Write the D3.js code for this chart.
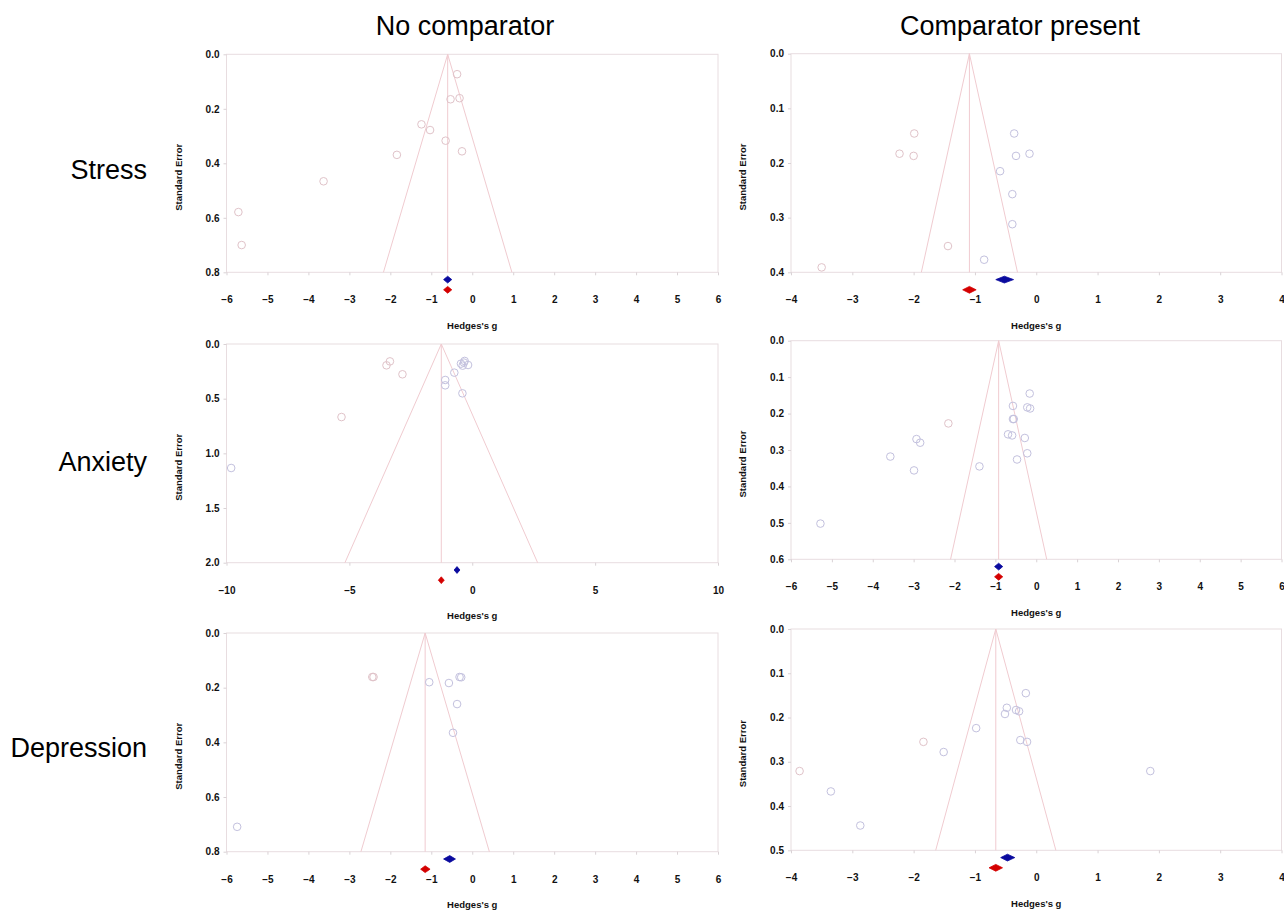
<!DOCTYPE html>
<html>
<head>
<meta charset="utf-8">
<script src="https://cdn.jsdelivr.net/npm/d3@7"></script>
<style>
  html, body { margin: 0; padding: 0; background: #ffffff; }
  svg { display: block; font-family: "Liberation Sans", Arial, sans-serif; }
</style>
</head>
<body>
<svg id="chart" width="1284" height="911"></svg>
<script>
// ---------------- DATA ----------------
const colTitles = ["No comparator", "Comparator present"];
const rowLabels = ["Stress", "Anxiety", "Depression"];
const xAxisTitle = "Hedges's g";
const yAxisTitle = "Standard Error";

// panel order: Stress-No, Stress-Comp, Anxiety-No, Anxiety-Comp, Depression-No, Depression-Comp
const xDomains = [[-6, 6], [-4, 4], [-10, 10], [-6, 6], [-6, 6], [-4, 4]];
const xTickSteps = [1, 1, 5, 1, 1, 1];
const seMax = [0.8, 0.4, 2.0, 0.6, 0.8, 0.5];
const seTickSteps = [0.2, 0.1, 0.5, 0.1, 0.2, 0.1];

// studies: [Hedges's g, standard error, colour group (0 = lavender, 1 = pink)]
const stressNoComp = [
  [-0.37, 0.073, 1], [-0.53, 0.165, 1], [-0.31, 0.161, 1], [-1.24, 0.257, 1],
  [-1.03, 0.278, 1], [-0.65, 0.317, 1], [-0.25, 0.356, 1], [-1.84, 0.369, 1],
  [-3.63, 0.466, 1], [-5.71, 0.579, 1], [-5.63, 0.700, 1]
];
const stressComp = [
  [-1.99, 0.146, 1], [-2.23, 0.183, 1], [-2.00, 0.187, 1], [-0.36, 0.146, 0],
  [-0.11, 0.183, 0], [-0.33, 0.187, 0], [-0.59, 0.215, 0], [-0.39, 0.257, 0],
  [-0.39, 0.312, 0], [-1.44, 0.352, 1], [-0.85, 0.377, 0], [-3.50, 0.391, 1]
];
const anxietyNoComp = [
  [-3.35, 0.159, 1], [-3.49, 0.195, 1], [-2.84, 0.277, 1], [-5.32, 0.668, 1],
  [-9.81, 1.134, 0], [-0.73, 0.262, 0], [-1.10, 0.329, 0], [-1.10, 0.378, 0],
  [-0.40, 0.451, 0], [-0.46, 0.180, 0], [-0.31, 0.155, 0], [-0.39, 0.198, 0],
  [-0.17, 0.192, 0], [-0.34, 0.170, 0]
];
const anxietyComp = [
  [-0.16, 0.145, 0], [-0.57, 0.179, 0], [-0.22, 0.183, 0], [-0.15, 0.186, 0],
  [-0.57, 0.215, 0], [-0.55, 0.215, 0], [-2.15, 0.227, 1], [-2.93, 0.270, 0],
  [-2.84, 0.280, 0], [-0.69, 0.257, 0], [-0.59, 0.260, 0], [-0.28, 0.267, 0],
  [-0.22, 0.309, 0], [-0.47, 0.326, 0], [-3.57, 0.318, 0], [-2.99, 0.356, 0],
  [-1.39, 0.345, 0], [-5.28, 0.502, 0]
];
const depressionNoComp = [
  [-2.44, 0.161, 1], [-2.41, 0.161, 1], [-1.05, 0.180, 0], [-0.57, 0.183, 0],
  [-0.31, 0.161, 0], [-0.27, 0.162, 0], [-0.37, 0.260, 0], [-0.47, 0.365, 0],
  [-5.74, 0.709, 0]
];
const depressionComp = [
  [-0.17, 0.145, 0], [-0.48, 0.178, 0], [-0.51, 0.192, 0], [-0.33, 0.183, 0],
  [-0.28, 0.186, 0], [-0.98, 0.224, 0], [-1.84, 0.255, 1], [-1.51, 0.278, 0],
  [-0.26, 0.251, 0], [-0.15, 0.255, 0], [-3.86, 0.321, 1], [-3.35, 0.367, 0],
  [-2.87, 0.444, 0], [1.86, 0.321, 0]
];
const studies = [stressNoComp, stressComp, anxietyNoComp, anxietyComp, depressionNoComp, depressionComp];

// summary effects: observed (blue) and adjusted / trim-and-fill (red)
const observedEst = [-0.60, -0.52, -0.62, -0.92, -0.55, -0.47];
const observedLo  = [-0.70, -0.66, -0.74, -1.02, -0.70, -0.58];
const observedHi  = [-0.50, -0.37, -0.50, -0.82, -0.41, -0.35];
const adjustedEst = [-0.60, -1.09, -1.26, -0.92, -1.15, -0.66];
const adjustedLo  = [-0.70, -1.20, -1.38, -1.02, -1.26, -0.77];
const adjustedHi  = [-0.50, -0.98, -1.14, -0.82, -1.03, -0.55];

// ---------------- LAYOUT ----------------
const layout = [
  {l: 226.5, r: 718,    t: 54.3,  b: 272.3},
  {l: 791,   r: 1281.5, t: 53.7,  b: 272.3},
  {l: 226.5, r: 718,    t: 344,   b: 562.7},
  {l: 791,   r: 1281.5, t: 340.7, b: 559.3},
  {l: 226.5, r: 718,    t: 633,   b: 851.7},
  {l: 791,   r: 1281.5, t: 629,   b: 850.3}
];
const colTitleX = [465, 1020];
const rowLabelBaseline = [179, 471, 757];
const yTitleX = [179, 742.5];

const frameColor = "#e8dde0";
const funnelColor = "#f0cbd0";
const circleColors = ["#c3c1de", "#e0c3c9"];
const blue = "#0a0a9e";
const red = "#d40000";

const svg = d3.select("#chart");

svg.selectAll("text.coltitle").data(colTitles).enter().append("text")
  .attr("class", "coltitle")
  .attr("x", (d, i) => colTitleX[i]).attr("y", 35)
  .attr("text-anchor", "middle")
  .attr("font-size", 27).attr("fill", "#000")
  .text(d => d);

svg.selectAll("text.rowlabel").data(rowLabels).enter().append("text")
  .attr("class", "rowlabel")
  .attr("x", 147).attr("y", (d, i) => rowLabelBaseline[i])
  .attr("text-anchor", "end")
  .attr("font-size", 27).attr("fill", "#000")
  .text(d => d);

const fmt1 = d3.format(".1f");

studies.forEach((pts, p) => {
  const L = layout[p];
  const col = p % 2;
  const x = d3.scaleLinear().domain(xDomains[p]).range([L.l, L.r]);
  const y = d3.scaleLinear().domain([0, seMax[p]]).range([L.t, L.b]);
  const g = svg.append("g");

  // frame
  g.append("rect")
    .attr("x", L.l).attr("y", L.t)
    .attr("width", L.r - L.l).attr("height", L.b - L.t)
    .attr("fill", "none").attr("stroke", frameColor).attr("stroke-width", 1);

  // x axis
  const xt = d3.range(xDomains[p][0], xDomains[p][1] + 1e-9, xTickSteps[p]);
  const xa = g.append("g").attr("transform", `translate(0,${L.b})`)
    .call(d3.axisBottom(x).tickValues(xt).tickFormat(d3.format("d")).tickSize(3).tickPadding(21));
  xa.select(".domain").remove();
  xa.selectAll(".tick line").attr("stroke", "#d9d2d5");
  xa.selectAll("text").attr("font-size", 10).attr("font-weight", "bold")
    .attr("fill", "#111").attr("font-family", "'Liberation Sans', Arial, sans-serif");

  // y axis
  const yt = d3.range(0, seMax[p] + 1e-9, seTickSteps[p]);
  const ya = g.append("g").attr("transform", `translate(${L.l},0)`)
    .call(d3.axisLeft(y).tickValues(yt).tickFormat(fmt1).tickSize(3).tickPadding(4));
  ya.select(".domain").remove();
  ya.selectAll(".tick line").attr("stroke", "#d9d2d5");
  ya.selectAll("text").attr("font-size", 10).attr("font-weight", "bold")
    .attr("fill", "#111").attr("font-family", "'Liberation Sans', Arial, sans-serif");

  // axis titles
  g.append("text")
    .attr("x", (L.l + L.r) / 2).attr("y", L.b + 56.5)
    .attr("text-anchor", "middle").attr("font-size", 9.5).attr("font-weight", "bold")
    .attr("fill", "#111").text(xAxisTitle);
  const yc = (L.t + L.b) / 2 + 14;
  g.append("text")
    .attr("transform", `translate(${yTitleX[col]},${yc}) rotate(-90)`)
    .attr("text-anchor", "middle").attr("dy", "0.35em")
    .attr("font-size", 9.5).attr("font-weight", "bold")
    .attr("fill", "#111").text(yAxisTitle);

  // funnel
  const c = adjustedEst[p];
  const s = seMax[p];
  const line = d3.line().x(d => x(d[0])).y(d => y(d[1]));
  g.append("path")
    .attr("d", line([[c - 1.96 * s, s], [c, 0], [c + 1.96 * s, s]]))
    .attr("fill", "none").attr("stroke", funnelColor).attr("stroke-width", 1);
  g.append("path")
    .attr("d", line([[c, 0], [c, s]]))
    .attr("fill", "none").attr("stroke", funnelColor).attr("stroke-width", 1);

  // studies
  g.selectAll("circle.study").data(pts).enter().append("circle")
    .attr("class", "study")
    .attr("cx", d => x(d[0])).attr("cy", d => y(d[1]))
    .attr("r", 3.8)
    .attr("fill", "none")
    .attr("stroke", d => circleColors[d[2]])
    .attr("stroke-width", 1);

  // diamonds
  const diamond = (est, lo, hi, yc, color) => {
    const hh = 3.4;
    g.append("path")
      .attr("d", `M${x(lo)},${yc} L${x(est)},${yc - hh} L${x(hi)},${yc} L${x(est)},${yc + hh} Z`)
      .attr("fill", color).attr("stroke", color).attr("stroke-width", 0.8);
  };
  diamond(observedEst[p], observedLo[p], observedHi[p], L.b + 7.3, blue);
  diamond(adjustedEst[p], adjustedLo[p], adjustedHi[p], L.b + 17.5, red);
});
</script>
</body>
</html>
